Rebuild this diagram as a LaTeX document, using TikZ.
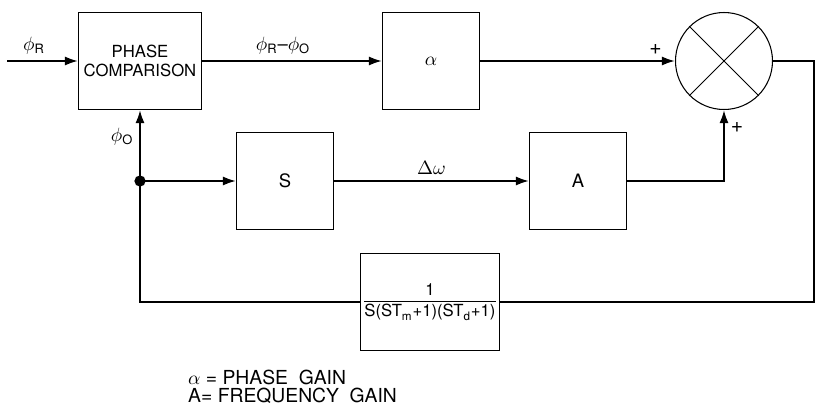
\documentclass[tikz,border=0pt]{standalone}
\usepackage{fontspec}
\setmainfont{TeX Gyre Heros}
\usepackage{amsmath}
\usepackage{tikz}
\usetikzlibrary{arrows.meta, positioning}
\tikzstyle{block} = [rectangle, 
minimum width=1.94cm, 
minimum height=1.94cm, 
inner sep=1pt,
text centered, 
draw=black, line width=0.6pt]
\tikzstyle{summer} = [circle, 
minimum size=1.94cm, 
draw=black, line width=0.6pt]
\tikzstyle{arrow} = [line width=1.1pt,-{Latex[length=2.6mm,width=1.8mm]},draw=black]
\tikzstyle{wire} = [line width=1.1pt,draw=black]

\begin{document}
\begin{tikzpicture}[x=0.02cm, y=-0.02cm, every node/.style={font=\fontsize{10.5}{12}\selectfont}, align=center]

        \useasboundingbox (0,0) rectangle (815,406);

        % Bloques
        \node (pc) [block, minimum width=2.46cm, font=\fontsize{9.5}{10.5}\selectfont] at (140,61) {PHASE\\COMPARISON};
        \node (alpha) [block, right=3.6cm of pc] {$\alpha$};
        \node (sum) [summer, right=3.9cm of alpha] {};
        \node (s) [block] at (285,181) {S};
        \node (a) [block, right=3.9cm of s] {A};
        \node (tf) [block, minimum width=2.74cm, font=\fontsize{9.5}{11}\selectfont] at (430,302) {$\dfrac{\text{1}}{\text{S(ST}_{\text{m}}\text{+1)(ST}_{\text{d}}\text{+1)}}$};

        % Puntos
        \coordinate (in) at (7,61);
        \coordinate (out) at (814,61);
        \coordinate (split) at (pc.south |- s);

        % Conexiones
        \draw [arrow] (in) -- node[above, pos=0.38] {$\phi_{\text{R}}$} (pc);
        \draw [arrow] (pc) -- node[above, pos=0.45] {$\phi_{\text{R}}\text{--}\phi_{\text{O}}$} (alpha);
        \draw [arrow] (alpha) -- node[above, pos=0.9, font=\fontsize{12}{12}\selectfont] {+} (sum);
        \draw [wire] (sum.east) -- (out) |- (tf.east);
        \draw [arrow] (tf.west) -| node[left, pos=0.93] {$\phi_{\text{O}}$} (pc.south);
        \draw [arrow] (split) -- (s);
        \fill (split) circle (3.2pt);
        \draw [arrow] (s) -- node[above] {$\Delta\omega$} (a);
        \draw [arrow] (a) -| node[right, pos=0.88, font=\fontsize{12}{12}\selectfont] {+} (sum);

        % Sumador
        \draw [line width=0.6pt] (sum.north west) -- (sum.south east);
        \draw [line width=0.6pt] (sum.north east) -- (sum.south west);

        % Leyenda
        \node (leg1) [anchor=west, font=\fontsize{11}{12}\selectfont] at (182,377) {$\alpha$ = PHASE\ \ GAIN};
        \node (leg2) [anchor=west, font=\fontsize{11}{12}\selectfont] at (182,396) {A= FREQUENCY\ \ GAIN};

    \end{tikzpicture}
\end{document}
